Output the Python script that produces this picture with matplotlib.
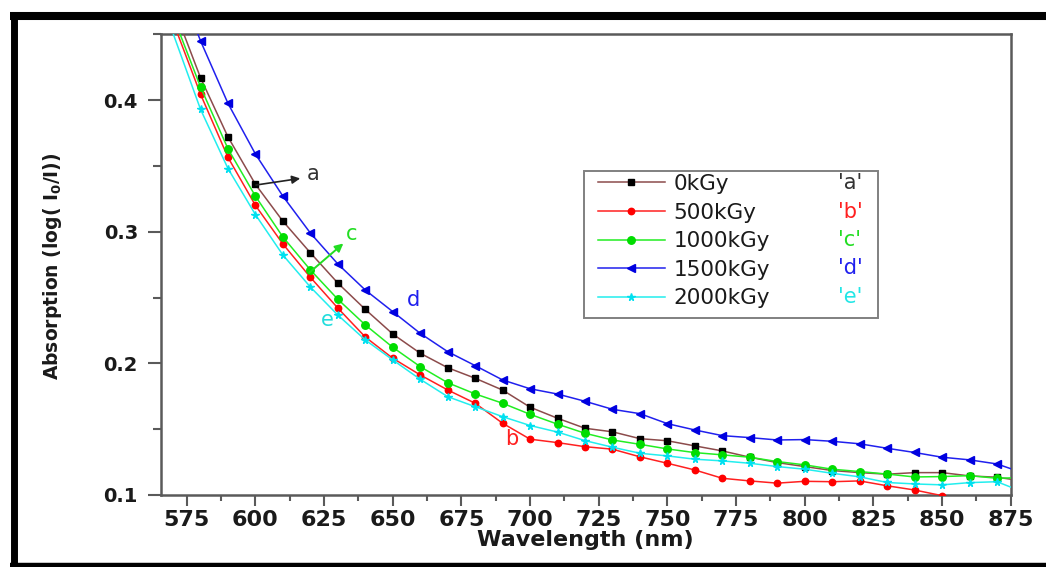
import matplotlib
matplotlib.use("Agg")
import matplotlib.pyplot as plt
from matplotlib.lines import Line2D
from matplotlib.patches import Rectangle

# ---------------- data ----------------
wl_start = 567
wl = list(range(580, 871, 10))
wl_end = 875

labels = ["0kGy", "500kGy", "1000kGy", "1500kGy", "2000kGy"]
tags = ["'a'", "'b'", "'c'", "'d'", "'e'"]

a_start, a_end = 0.488, 0.112
a_vals = [0.417, 0.372, 0.336, 0.308, 0.284, 0.261, 0.241, 0.2223, 0.2077, 0.1967,
          0.1887, 0.1797, 0.1667, 0.1583, 0.1507, 0.148, 0.1428, 0.1412, 0.1373, 0.1335,
          0.1287, 0.1246, 0.1216, 0.1186, 0.117, 0.1158, 0.117, 0.117, 0.1145, 0.1135]

b_start = 0.476
b_vals = [0.4045, 0.3565, 0.320, 0.2907, 0.2654, 0.242, 0.220, 0.2039, 0.1912, 0.1798,
          0.1697, 0.1545, 0.1424, 0.1398, 0.1367, 0.1348, 0.129, 0.1241, 0.119, 0.1127,
          0.1107, 0.109, 0.1104, 0.1101, 0.1107, 0.107, 0.1038, 0.0995]

c_start, c_end = 0.480, 0.113
c_vals = [0.410, 0.363, 0.327, 0.296, 0.271, 0.2487, 0.2292, 0.2122, 0.1975, 0.1853,
          0.1768, 0.1697, 0.1613, 0.1538, 0.1469, 0.1418, 0.1385, 0.135, 0.1322, 0.1305,
          0.1287, 0.1254, 0.1229, 0.1196, 0.1178, 0.1159, 0.1137, 0.114, 0.1147, 0.1127]

d_start, d_end = 0.516, 0.120
d_vals = [0.445, 0.3975, 0.359, 0.327, 0.299, 0.2755, 0.2557, 0.2393, 0.2228, 0.2089,
          0.1983, 0.1874, 0.1807, 0.1767, 0.1712, 0.1651, 0.1618, 0.1542, 0.1494, 0.1451,
          0.1436, 0.1418, 0.1421, 0.1408, 0.1389, 0.1355, 0.1323, 0.1287, 0.1267, 0.1236]

e_start, e_end = 0.468, 0.106
e_vals = [0.393, 0.348, 0.313, 0.2823, 0.258, 0.2367, 0.2178, 0.2026, 0.1879, 0.1747,
          0.1671, 0.1595, 0.1528, 0.1478, 0.1413, 0.1363, 0.1317, 0.1297, 0.1272, 0.1259,
          0.1241, 0.1216, 0.1196, 0.1165, 0.1138, 0.1095, 0.1084, 0.1077, 0.1094, 0.1101]

xticks = [575, 600, 625, 650, 675, 700, 725, 750, 775, 800, 825, 850, 875]
yticks = [0.1, 0.2, 0.3, 0.4]

# ---------------- figure ----------------
W, H = 1046, 567
fig = plt.figure(figsize=(W / 100, H / 100), dpi=100)
fig.patch.set_facecolor("white")

axL, axR, axT, axB = 160.7, 1010.7, 34.3, 495.0
ax = fig.add_axes([axL / W, (H - axB) / H, (axR - axL) / W, (axB - axT) / H])

def series(start, vals, end=None):
    x = [wl_start] + wl[:len(vals)]
    y = [start] + vals
    if end is not None:
        x = x + [wl_end]
        y = y + [end]
    return x, y

line_w = 1.1
specs = [
    (series(a_start, a_vals, a_end), "#8c4b4b", "s", "black", 4.2),
    (series(b_start, b_vals), "#ff2020", "o", "#ff0000", 4.6),
    (series(c_start, c_vals, c_end), "#22ee22", "o", "#00dd00", 5.4),
    (series(d_start, d_vals, d_end), "#2020ee", "<", "#0000e0", 6.2),
    (series(e_start, e_vals, e_end), "#22eeee", "*", "#00e0f0", 5.5),
]
handles = []
for (x, y), lc, mk, mc, ms in specs:
    n_mark = len([v for v in x if 580 <= v <= 870])
    h, = ax.plot(x, y, color=lc, lw=line_w, marker=mk, ms=ms,
                 markerfacecolor=mc, markeredgecolor=mc,
                 markevery=list(range(1, 1 + n_mark)), clip_on=True, zorder=3)
    handles.append(h)

ax.set_xlim(565.5, 875)
ax.set_ylim(0.1, 0.45)
ax.set_xticks(xticks)
ax.set_xticks([575 + 12.5 * i for i in range(25)], minor=True)
ax.set_yticks(yticks)
ax.set_yticks([0.15, 0.25, 0.35, 0.45], minor=True)
ax.set_yticklabels([f"{v:.1f}" for v in yticks])

spine_c = "#5a5a5a"
for s in ax.spines.values():
    s.set_color(spine_c)
    s.set_linewidth(1.8)

ax.tick_params(axis="x", which="major", direction="out", length=7.6, width=1.5,
               color=spine_c, pad=3, labelsize=16)
ax.tick_params(axis="x", which="minor", direction="out", length=4.3, width=1.5, color=spine_c)
ax.tick_params(axis="y", which="major", direction="out", length=9.4, width=1.5,
               color=spine_c, pad=7, labelsize=14)
ax.tick_params(axis="y", which="minor", direction="out", length=5.8, width=1.5, color=spine_c)
for lab in ax.get_xticklabels() + ax.get_yticklabels():
    lab.set_fontweight("bold")
    lab.set_fontfamily("DejaVu Sans")
    lab.set_color("#1a1a1a")

plt.rcParams["mathtext.fontset"] = "dejavusans"
ax.set_xlabel("Wavelength (nm)", fontsize=16, fontweight="bold", labelpad=0.5, color="#1a1a1a")
ax.set_ylabel(r"Absorption (log( I$_\mathbf{0}$/I))", fontsize=13.5, fontweight="bold",
              color="#1a1a1a")
ax.yaxis.set_label_coords((52 - axL) / (axR - axL), (axB - 266.5) / (axB - axT))
ax.yaxis.label.set_va("center")

# ---------------- annotations ----------------
ax.annotate("", xy=(616.3, 0.3405), xytext=(600.2, 0.3355),
            arrowprops=dict(arrowstyle="-|>", color="#222222", lw=1.2,
                            mutation_scale=12, shrinkA=0, shrinkB=0))
ax.text(621.0, 0.3438, "a", fontsize=15, color="#333333", ha="center", va="center")
ax.annotate("", xy=(632.0, 0.2911), xytext=(619.6, 0.2689),
            arrowprops=dict(arrowstyle="-|>", color="#22dd22", lw=1.4,
                            mutation_scale=12, shrinkA=0, shrinkB=0))
ax.text(635.1, 0.2985, "c", fontsize=15, color="#22dd22", ha="center", va="center")
ax.text(657.5, 0.2479, "d", fontsize=15, color="#2020ee", ha="center", va="center")
ax.text(626.0, 0.2327, "e", fontsize=15, color="#22dddd", ha="center", va="center")
ax.text(693.3, 0.1428, "b", fontsize=15, color="#ff2020", ha="center", va="center")

# ---------------- legend ----------------
def fx(px):
    return (px - axL) / (axR - axL)

def fy(py):
    return (axB - py) / (axB - axT)

ax.add_patch(Rectangle((fx(584), fy(318.3)), fx(878.3) - fx(584), fy(170.7) - fy(318.3),
                       transform=ax.transAxes, facecolor="white", edgecolor="#808080",
                       lw=1.4, zorder=4))
leg = ax.legend(handles, labels, loc="upper left", bbox_to_anchor=(fx(598), fy(174.0)),
                frameon=False, fontsize=15.5, handlelength=3.1, handletextpad=0.42,
                borderpad=0, borderaxespad=0, labelspacing=0.4, markerscale=1.0)
leg.set_zorder(5)
for t in leg.get_texts():
    t.set_color("#1a1a1a")
tag_cols = ["#333333", "#ff2020", "#22dd22", "#2020ee", "#22e6e6"]
rows = [183.3, 211.7, 240.0, 268.3, 296.7]
for tg, col, ry in zip(tags, tag_cols, rows):
    ax.text(fx(850), fy(ry), tg, transform=ax.transAxes, fontsize=15, color=col,
            ha="center", va="center", zorder=6)

# ---------------- outer black frame ----------------
def fxx(px):
    return px / W

def fyy(py):
    return 1 - py / H

fig.add_artist(Line2D([fxx(10), fxx(1046)], [fyy(16), fyy(16)], color="black", lw=5.8,
                      solid_capstyle="butt"))
fig.add_artist(Line2D([fxx(13.5), fxx(13.5)], [fyy(12), fyy(567)], color="black", lw=5.0,
                      solid_capstyle="butt"))
fig.add_artist(Line2D([fxx(10), fxx(1046)], [fyy(565), fyy(565)], color="black", lw=3.2,
                      solid_capstyle="butt"))

fig.savefig("out.png", dpi=100)
